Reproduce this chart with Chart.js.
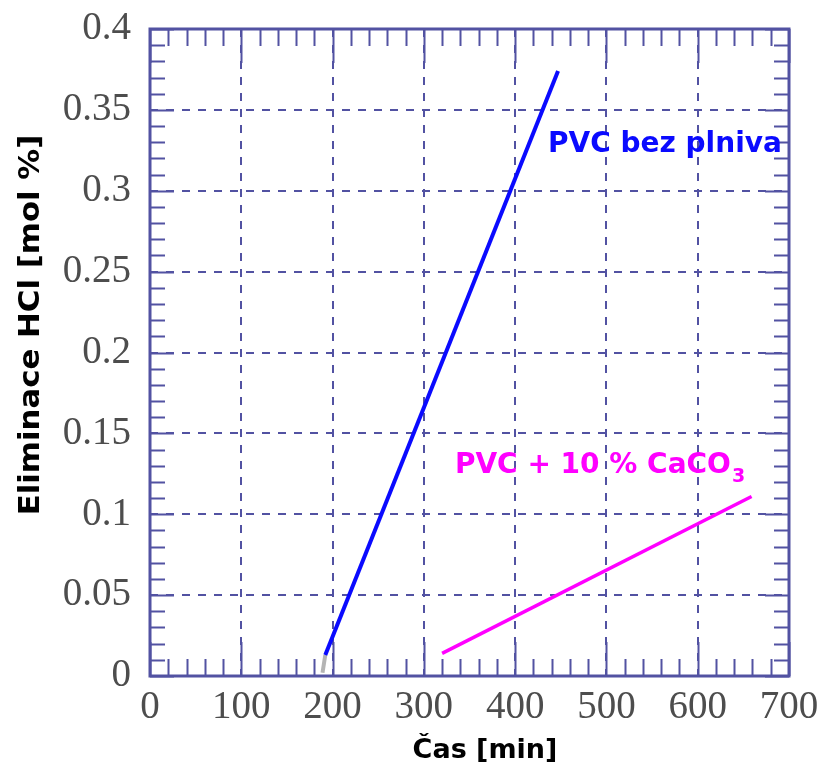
<!DOCTYPE html>
<html lang="cs">
<head>
<meta charset="utf-8">
<title>Eliminace HCl</title>
<script src="https://cdn.jsdelivr.net/npm/chart.js@4.4.1/dist/chart.umd.min.js"></script>
<style>
  html, body { margin: 0; padding: 0; background: #fff; }
  #obal { width: 818px; height: 769px; }
</style>
</head>
<body>
<div id="obal"><canvas id="graf" width="818" height="769"></canvas></div>
<script>
// --- DATA ---
// PVC bez plniva
const casPvc = [189, 192, 447];
const hclPvc = [0.002, 0.013, 0.374];
// PVC + 10 % CaCO3
const casCaco3 = [320, 659];
const hclCaco3 = [0.014, 0.111];

// popisky os
const casTicks = [0, 100, 200, 300, 400, 500, 600, 700];
const hclTicks = [0, 0.05, 0.1, 0.15, 0.2, 0.25, 0.3, 0.35, 0.4];

// --- BARVY ---
const barvaRamu = '#5252a2';
const barvaPvc = '#0a0aff';
const barvaCaco3 = '#ff00ff';

// body pro Chart.js
const bodyPvc = casPvc.slice(1).map((x, i) => ({ x: x, y: hclPvc[i + 1] }));
const bodyPvcNabeh = casPvc.slice(0, 2).map((x, i) => ({ x: x, y: hclPvc[i] }));
const bodyCaco3 = casCaco3.map((x, i) => ({ x: x, y: hclCaco3[i] }));

// Rámeček s vnitřními značkami (jemné po 20 min a 0.01)
const ramPlugin = {
    id: 'ram',
    beforeDatasetsDraw(chart) {
        const { ctx, chartArea: a, scales: { x, y } } = chart;
        ctx.save();
        ctx.strokeStyle = barvaRamu;
        ctx.lineWidth = 2;
        ctx.beginPath();
        for (let v = 0; v <= 700; v += 20) {
            const px = Math.round(x.getPixelForValue(v)) + 0.5;
            const d = v % 100 === 0 ? 34 : 17;
            ctx.moveTo(px, a.bottom); ctx.lineTo(px, a.bottom - d);
            ctx.moveTo(px, a.top); ctx.lineTo(px, a.top + d);
        }
        for (let i = 0; i <= 40; i++) {
            const py = Math.round(y.getPixelForValue(i / 100)) + 0.5;
            const d = i % 5 === 0 ? 24 : 15;
            ctx.moveTo(a.left, py); ctx.lineTo(a.left + d, py);
            ctx.moveTo(a.right, py); ctx.lineTo(a.right - d, py);
        }
        ctx.stroke();
        ctx.lineWidth = 3;
        ctx.strokeRect(a.left, a.top, a.right - a.left, a.bottom - a.top);
        ctx.restore();
    }
};

// Popisky řad a názvy os
const popiskyPlugin = {
    id: 'popisky',
    afterDatasetsDraw(chart) {
        const { ctx, scales: { x, y } } = chart;
        ctx.save();
        ctx.font = 'bold 28px "DejaVu Sans"';
        ctx.textBaseline = 'alphabetic';
        ctx.textAlign = 'left';

        ctx.fillStyle = barvaPvc;
        ctx.fillText('PVC bez plniva', x.getPixelForValue(436), y.getPixelForValue(0.324));

        ctx.fillStyle = barvaCaco3;
        const tx = x.getPixelForValue(334);
        const ty = y.getPixelForValue(0.1255);
        const hlavni = 'PVC + 10 % CaCO';
        ctx.fillText(hlavni, tx, ty);
        const sirka = ctx.measureText(hlavni).width;
        ctx.font = 'bold 19px "DejaVu Sans"';
        ctx.fillText('3', tx + sirka + 1, ty + 9);

        // názvy os
        ctx.fillStyle = '#000';
        ctx.font = 'bold 27px "DejaVu Sans"';
        ctx.textAlign = 'center';
        ctx.fillText('Čas [min]', 485, 758);

        ctx.translate(32, 325);
        ctx.rotate(-Math.PI / 2);
        ctx.scale(1.1, 1);
        ctx.font = 'bold 28px "DejaVu Sans"';
        ctx.textBaseline = 'middle';
        ctx.fillText('Eliminace HCl [mol %]', 0, 0);
        ctx.restore();
    }
};

const ctx = document.getElementById('graf').getContext('2d');
const graf = new Chart(ctx, {
    type: 'scatter',
    data: {
        datasets: [
            {
                label: 'PVC bez plniva',
                data: bodyPvc,
                showLine: true,
                borderColor: barvaPvc,
                borderWidth: 4,
                pointRadius: 0,
                clip: false
            },
            {
                label: 'PVC bez plniva (náběh)',
                data: bodyPvcNabeh,
                showLine: true,
                borderColor: '#b4b4b4',
                borderWidth: 4,
                pointRadius: 0,
                clip: false
            },
            {
                label: 'PVC + 10 % CaCO3',
                data: bodyCaco3,
                showLine: true,
                borderColor: barvaCaco3,
                borderWidth: 3.5,
                pointRadius: 0,
                clip: false
            }
        ]
    },
    options: {
        responsive: false,
        animation: false,
        layout: { padding: { top: 29, right: 29, left: 0, bottom: 0 } },
        plugins: {
            legend: { display: false },
            tooltip: { enabled: false }
        },
        scales: {
            x: {
                type: 'linear',
                min: 0,
                max: 700,
                afterBuildTicks: s => { s.ticks = casTicks.map(v => ({ value: v })); },
                afterFit: s => { s.height = 93; s.paddingLeft = 0; s.paddingRight = 0; },
                grid: { color: barvaRamu, lineWidth: 2, drawTicks: false },
                border: { display: false, dash: [8, 8] },
                ticks: {
                    padding: 8,
                    color: '#4d4d4d',
                    font: { family: '"Liberation Serif", "Times New Roman", serif', size: 39 },
                    callback: v => String(v)
                }
            },
            y: {
                type: 'linear',
                min: 0,
                max: 0.4,
                afterBuildTicks: s => { s.ticks = hclTicks.map(v => ({ value: v })); },
                afterFit: s => { s.width = 150; s.paddingTop = 0; s.paddingBottom = 0; },
                grid: { color: barvaRamu, lineWidth: 2, drawTicks: false },
                border: { display: false, dash: [8, 8] },
                ticks: {
                    padding: 19,
                    color: '#4d4d4d',
                    font: { family: '"Liberation Serif", "Times New Roman", serif', size: 39 },
                    callback: v => String(v)
                }
            }
        }
    },
    plugins: [ramPlugin, popiskyPlugin]
});
</script>
</body>
</html>
